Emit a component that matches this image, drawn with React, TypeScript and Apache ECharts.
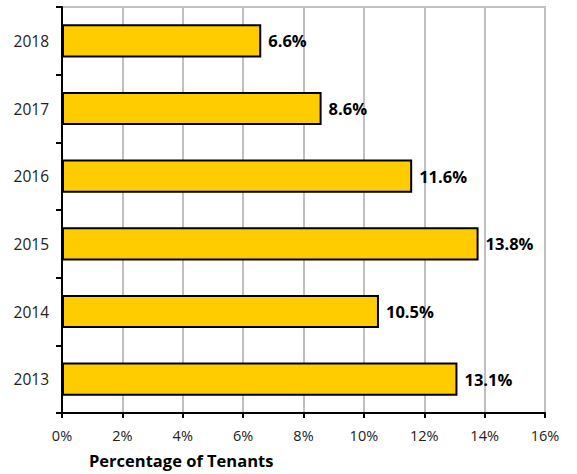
import React, { useEffect, useRef } from "react";
import * as echarts from "echarts";

const years = ["2013", "2014", "2015", "2016", "2017", "2018"];
const values = [13.1, 10.5, 13.8, 11.6, 8.6, 6.6];
const xTicks = [0, 2, 4, 6, 8, 10, 12, 14, 16];
const axisTitle = "Percentage of Tenants";

const FONT = "'Open Sans', 'Noto Sans', sans-serif";

export default function App() {
  const ref = useRef<HTMLDivElement>(null);
  useEffect(() => {
    if (!ref.current) return;
    const chart = echarts.init(ref.current, undefined, { renderer: "svg" });
    chart.setOption({
      animation: false,
      backgroundColor: "#ffffff",
      grid: {
        left: 62,
        right: 32,
        top: 7,
        bottom: 61,
        show: true,
        borderColor: "#c0c0c0",
        borderWidth: 2,
        containLabel: false,
      },
      xAxis: {
        type: "value",
        min: xTicks[0],
        max: xTicks[xTicks.length - 1],
        interval: 2,
        name: axisTitle,
        nameLocation: "start",
        nameGap: 0,
        nameTextStyle: {
          fontFamily: FONT,
          fontWeight: "bold",
          fontSize: 16.5,
          color: "#000",
          align: "left",
          verticalAlign: "top",
          padding: [39, 0, 0, 27],
        },
        axisLine: { show: true, lineStyle: { color: "#000", width: 2 } },
        axisTick: { show: true, length: 5, lineStyle: { color: "#000", width: 2 } },
        axisLabel: {
          formatter: (v: number) => v + "%",
          fontFamily: FONT,
          fontSize: 14.5,
          color: "#222",
          margin: 15,
        },
        splitLine: { show: true, lineStyle: { color: "#c0c0c0", width: 2 } },
      },
      yAxis: {
        type: "category",
        data: years,
        axisLine: { show: true, lineStyle: { color: "#000", width: 2 } },
        axisTick: { show: true, length: 6, lineStyle: { color: "#000", width: 2 } },
        axisLabel: {
          fontFamily: FONT,
          fontSize: 15.5,
          color: "#222",
          margin: 13,
        },
        splitLine: { show: false },
      },
      series: [
        {
          type: "bar",
          data: values,
          barCategoryGap: "51%",
          itemStyle: { color: "#FFCC00", borderColor: "#000", borderWidth: 2 },
          label: {
            show: true,
            position: "right",
            distance: 7,
            formatter: (p: any) => p.value.toFixed(1) + "%",
            fontFamily: FONT,
            fontWeight: "bold",
            fontSize: 16.5,
            color: "#000",
          },
        },
      ],
    });
    return () => chart.dispose();
  }, []);
  return (
    <div
      ref={ref}
      style={{ position: "absolute", left: 0, top: 0, width: 577, height: 474 }}
    />
  );
}
